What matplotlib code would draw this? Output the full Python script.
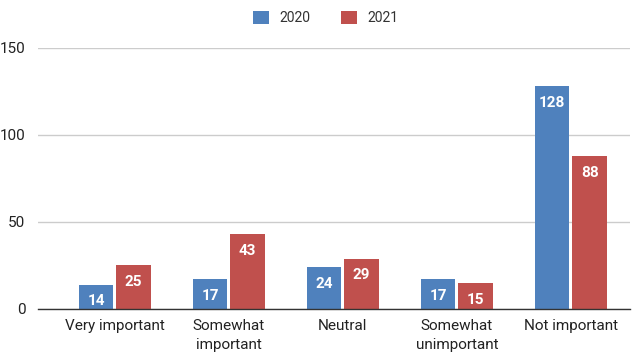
import numpy as np
import matplotlib.pyplot as plt

# Survey responses per importance rating, two years
categories = ['Very important', 'Somewhat\nimportant', 'Neutral', 'Somewhat\nunimportant', 'Not important']
values_2020 = [14, 17, 24, 17, 128]
values_2021 = [25, 43, 29, 15, 88]
years = ['2020', '2021']
colors = ['#4F81BD', '#C0504D']

plt.rcParams['font.family'] = ['Roboto', 'DejaVu Sans']

fig = plt.figure(figsize=(6.32, 3.55), dpi=100)
ax = fig.add_axes([0.060, 0.1296, 0.937, 0.7352])

x = np.arange(len(categories))
w = 0.305
off = 0.165
for vals, col, lab, sgn in [(values_2020, colors[0], years[0], -1), (values_2021, colors[1], years[1], 1)]:
    bars = ax.bar(x + sgn * off, vals, width=w, color=col, label=lab, zorder=3)
    for b, v in zip(bars, vals):
        ax.annotate(str(v), (b.get_x() + b.get_width() / 2, v), xytext=(0, -12),
                    textcoords='offset points', ha='center', va='center',
                    color='white', fontsize=11, fontweight='bold', zorder=4)

ax.set_xlim(-0.675, 4.52)
ax.set_ylim(0, 150)
ax.set_yticks([0, 50, 100, 150])
ax.set_xticks(x)
ax.set_xticklabels(categories, fontsize=11, color='#222222', linespacing=1.45)
ax.tick_params(axis='both', length=0, colors='#222222', labelsize=11)
ax.tick_params(axis='x', pad=7)
ax.tick_params(axis='y', pad=9)
ax.grid(axis='y', color='#cccccc', linewidth=1, zorder=0)
for s in ['top', 'right', 'left']:
    ax.spines[s].set_visible(False)
ax.spines['bottom'].set_color('#333333')
ax.spines['bottom'].set_linewidth(1)
ax.spines['bottom'].set_zorder(5)

fig.legend(loc='upper center', bbox_to_anchor=(0.516, 1.005), ncol=2, frameon=False,
           fontsize=10, handlelength=1.1, handleheight=1.1, columnspacing=2.2,
           handletextpad=0.8, labelcolor='#333333')

fig.savefig('out.png', dpi=100)
